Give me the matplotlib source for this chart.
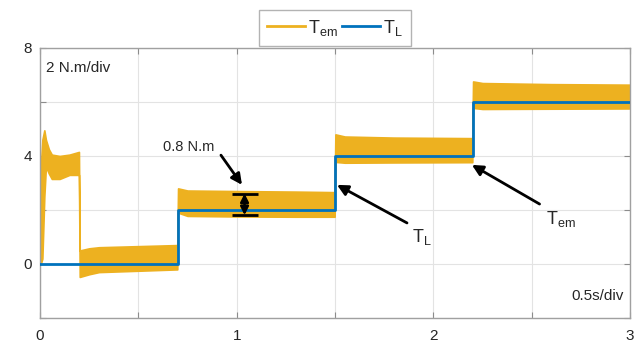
import matplotlib
matplotlib.use("Agg")
import matplotlib.pyplot as plt
import numpy as np

plt.rcParams['font.family'] = ['Liberation Sans', 'DejaVu Sans']
plt.rcParams['mathtext.fontset'] = 'custom'
plt.rcParams['mathtext.rm'] = 'Liberation Sans'

# Load torque reference (step profile)
tl_time = [0.0, 0.7, 0.7, 1.5, 1.5, 2.2, 2.2, 3.0]
tl_value = [0.0, 0.0, 2.0, 2.0, 4.0, 4.0, 6.0, 6.0]

# Electromagnetic torque ripple envelope (upper / lower edge of the band)
tem_time = [0.0, 0.004, 0.012, 0.022, 0.03, 0.045, 0.06, 0.10, 0.15, 0.198,
            0.202, 0.25, 0.30, 0.50, 0.698,
            0.702, 0.75, 1.00, 1.30, 1.498,
            1.502, 1.55, 1.80, 2.198,
            2.202, 2.25, 2.60, 3.0]
tem_upper = [0.0, 3.6, 4.6, 4.95, 4.6, 4.25, 4.05, 4.0, 4.05, 4.15,
             0.5, 0.58, 0.62, 0.66, 0.7,
             2.8, 2.72, 2.7, 2.68, 2.66,
             4.8, 4.72, 4.68, 4.66,
             6.76, 6.7, 6.66, 6.64]
tem_lower = [0.0, 0.0, 0.2, 2.5, 3.6, 3.35, 3.15, 3.15, 3.3, 3.3,
             -0.48, -0.38, -0.3, -0.25, -0.2,
             1.9, 1.78, 1.76, 1.75, 1.75,
             3.78, 3.75, 3.76, 3.77,
             5.78, 5.74, 5.75, 5.76]

# Ripple magnitude marked on the 2 N.m step
ripple_center = 2.21
ripple_width = 0.8
ripple_t = 1.04

yellow = '#EDB120'
blue = '#0072BD'
text_col = '#262626'

fig = plt.figure(figsize=(6.38, 3.44), dpi=100)
ax = fig.add_axes([0.0627, 0.0756, 0.9248, 0.785])

ax.fill_between(tem_time, tem_lower, tem_upper, color=yellow, linewidth=1.2,
                edgecolor=yellow, zorder=2)
ax.plot([], [], color=yellow, linewidth=2, label=r'$\mathrm{T}_{\mathrm{em}}$')
ax.plot(tl_time, tl_value, color=blue, linewidth=2, label=r'$\mathrm{T}_{\mathrm{L}}$',
        zorder=3)

ax.set_xlim(0, 3)
ax.set_ylim(-2, 8)
ax.set_xticks(np.arange(0, 3.01, 0.5))
ax.set_xticklabels(['0', '', '1', '', '2', '', '3'])
ax.set_yticks([-2, 0, 2, 4, 6, 8])
ax.set_yticklabels(['', '0', '', '4', '', '8'])
ax.tick_params(direction='in', length=4, color='#8c8c8c', labelsize=11,
               labelcolor=text_col, top=True, right=True, pad=6)
ax.tick_params(axis='x', pad=8)
ax.grid(True, color='#e3e3e3', linewidth=0.8, zorder=0)
ax.set_axisbelow(True)
for s in ax.spines.values():
    s.set_color('#a0a0a0')
    s.set_linewidth(1.0)

arrow_kw = dict(color='black', lw=2, mutation_scale=16, shrinkA=0, shrinkB=0)

# Ripple bars with double arrow
lo = ripple_center - ripple_width / 2
hi = ripple_center + ripple_width / 2
ax.hlines([lo, hi], ripple_t - 0.066, ripple_t + 0.066, color='black', linewidth=2, zorder=4)
ax.annotate('', xy=(ripple_t, hi), xytext=(ripple_t, lo),
            arrowprops=dict(arrowstyle='<|-|>', color='black', lw=1.8,
                            mutation_scale=12, shrinkA=0, shrinkB=0), zorder=4)
ax.text(0.757, 4.33, '0.8 N.m', ha='center', va='center', fontsize=10.5, color=text_col)
ax.annotate('', xy=(1.027, 2.93), xytext=(0.92, 4.03), arrowprops=dict(arrowstyle='-|>', **arrow_kw))

# Arrows labelling each trace
ax.annotate('', xy=(1.51, 2.93), xytext=(1.866, 1.52), arrowprops=dict(arrowstyle='-|>', **arrow_kw))
ax.text(1.94, 1.0, r'$\mathrm{T}_{\mathrm{L}}$', ha='center', va='center', fontsize=13, color=text_col)
ax.annotate('', xy=(2.196, 3.67), xytext=(2.54, 2.22), arrowprops=dict(arrowstyle='-|>', **arrow_kw))
ax.text(2.65, 1.65, r'$\mathrm{T}_{\mathrm{em}}$', ha='center', va='center', fontsize=13, color=text_col)

ax.text(0.03, 7.27, '2 N.m/div', fontsize=11, color=text_col, va='center', ha='left')
ax.text(2.97, -1.2, '0.5s/div', fontsize=11, color=text_col, va='center', ha='right')

leg = ax.legend(loc='lower center', bbox_to_anchor=(0.5, 1.008), ncol=2,
                fontsize=13, frameon=True, fancybox=False, handlelength=2.1,
                handletextpad=0.2, columnspacing=0.2, borderpad=0.45,
                borderaxespad=0.0)
leg.get_frame().set_edgecolor('#a0a0a0')
leg.get_frame().set_linewidth(1.0)
for t in leg.get_texts():
    t.set_color(text_col)

fig.savefig('out.png', dpi=100)
